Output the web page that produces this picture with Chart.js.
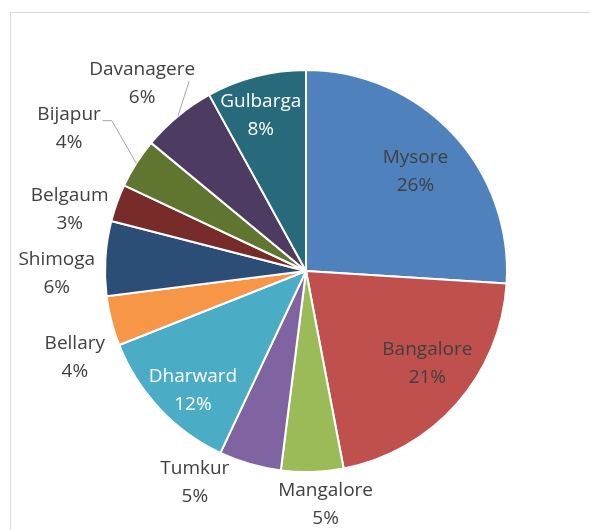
<!DOCTYPE html>
<html>
<head>
<meta charset="utf-8">
<script src="https://cdn.jsdelivr.net/npm/chart.js@4.4.0/dist/chart.umd.min.js"></script>
<style>
  html, body { margin: 0; padding: 0; background: #ffffff; }
  #wrap { position: relative; width: 590px; height: 530px; overflow: hidden; }
  #frame {
    position: absolute; left: 10px; top: 12px; width: 700px; height: 700px;
    border-left: 1px solid #d9d9d9; border-top: 1px solid #d9d9d9;
  }
  #districtPie { position: absolute; left: 0; top: 0; }
</style>
</head>
<body>
<div id="wrap">
  <div id="frame"></div>
  <canvas id="districtPie" width="590" height="530"></canvas>
</div>
<script>
// District shares
const districts = ["Mysore", "Bangalore", "Mangalore", "Tumkur", "Dharward", "Bellary",
                   "Shimoga", "Belgaum", "Bijapur", "Davanagere", "Gulbarga"];
const shares = [26, 21, 5, 5, 12, 4, 6, 3, 4, 6, 8];
const sliceColors = ["#4F81BD", "#C0504D", "#9BBB59", "#8064A2", "#4BACC6", "#F79646",
                     "#2C4D75", "#772C2A", "#5F7530", "#4D3B62", "#276A7C"];

// Where each label sits: k = fraction of radius along the slice middle,
// turn = small angular nudge in degrees, leader = connector style
const labelPlacement = {
    Mysore:     { k: 0.735, turn: 1,    color: "#404040" },
    Bangalore:  { k: 0.76,  turn: -4,   color: "#404040" },
    Mangalore:  { k: 1.165, turn: -3,   color: "#404040" },
    Tumkur:     { k: 1.19,  turn: 11.5, color: "#404040" },
    Dharward:   { k: 0.82,  turn: -3.5, color: "#ffffff" },
    Bellary:    { k: 1.228, turn: -6.1, color: "#404040" },
    Shimoga:    { k: 1.24,  turn: -4.3, color: "#404040" },
    Belgaum:    { k: 1.215, turn: -5.2, color: "#404040" },
    Bijapur:    { k: 1.375, turn: -1.4, color: "#404040", leader: "elbow" },
    Davanagere: { k: 1.24,  turn: -1.5, color: "#404040", leader: "straight" },
    Gulbarga:   { k: 0.807, turn: -1.8, color: "#ffffff" }
};

const labelFont = "19px 'Open Sans', sans-serif";
const lineGap = 28;

const pieLabels = {
    id: "pieLabels",
    afterDatasetsDraw(chart) {
        const ctx = chart.ctx;
        const meta = chart.getDatasetMeta(0);
        const values = chart.data.datasets[0].data;
        const total = values.reduce((a, b) => a + b, 0);
        ctx.save();
        ctx.font = labelFont;
        ctx.textAlign = "center";
        ctx.textBaseline = "middle";
        meta.data.forEach((arc, i) => {
            const name = chart.data.labels[i];
            const place = labelPlacement[name];
            const pct = Math.round(values[i] / total * 100) + "%";
            const mid = (arc.startAngle + arc.endAngle) / 2;
            const a = mid + place.turn * Math.PI / 180;
            const r = arc.outerRadius;
            const cx = arc.x + Math.cos(a) * r * place.k;
            const cy = arc.y + Math.sin(a) * r * place.k;

            if (place.leader) {
                const ex = arc.x + Math.cos(mid) * r;
                const ey = arc.y + Math.sin(mid) * r;
                const w = ctx.measureText(name).width;
                ctx.strokeStyle = "#a6a6a6";
                ctx.lineWidth = 1;
                ctx.beginPath();
                if (place.leader === "elbow") {
                    const sx = cx + w / 2 + 2;
                    const sy = cy - lineGap / 2 + 6;
                    ctx.moveTo(sx, sy);
                    ctx.lineTo(sx + 9, sy);
                    ctx.lineTo(ex, ey);
                } else {
                    ctx.moveTo(cx + w / 2 - 6, cy - lineGap / 2 + 12);
                    ctx.lineTo(ex, ey);
                }
                ctx.stroke();
            }

            ctx.fillStyle = place.color;
            ctx.fillText(name, cx, cy - lineGap / 2);
            ctx.fillText(pct, cx, cy + lineGap / 2);
        });
        ctx.restore();
    }
};

new Chart(document.getElementById("districtPie"), {
    type: "pie",
    data: {
        labels: districts,
        datasets: [{
            data: shares,
            backgroundColor: sliceColors,
            borderColor: "#ffffff",
            borderWidth: 2
        }]
    },
    options: {
        responsive: false,
        animation: false,
        layout: {
            padding: { left: 104, right: 82, top: 69, bottom: 57 }
        },
        plugins: {
            legend: { display: false },
            tooltip: { enabled: false }
        }
    },
    plugins: [pieLabels]
});
</script>
</body>
</html>
